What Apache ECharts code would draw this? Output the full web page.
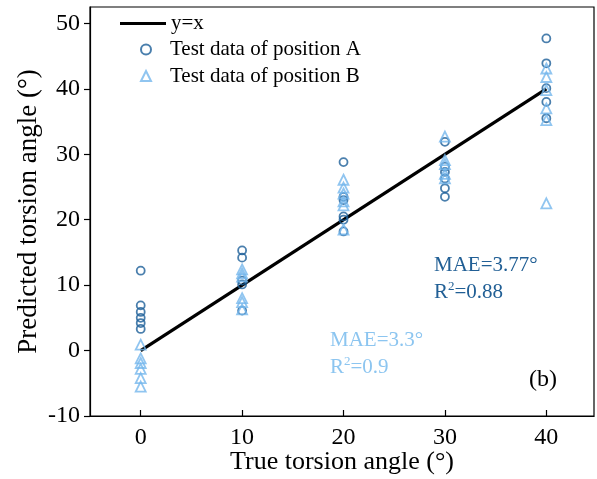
<!DOCTYPE html>
<html><head><meta charset="utf-8">
<script src="https://cdn.jsdelivr.net/npm/echarts@6/dist/echarts.min.js"></script>
<style>html,body{margin:0;padding:0;background:#fff}#c{width:597px;height:479px}</style>
</head><body><div id="c"></div>
<script>
const lineXY = [[0, 0], [40, 40]];
const trueAngles = [0, 10, 20, 30, 40];
const predA = [
  [12.2, 6.9, 5.9, 5.0, 4.2, 3.3],
  [15.3, 14.2, 10.7, 10.1, 6.1],
  [28.8, 23.5, 23.0, 20.5, 20.0, 18.2],
  [31.9, 28.1, 27.3, 26.3, 24.8, 23.5],
  [47.7, 43.9, 40.1, 38.0, 35.5]
];
const predB = [
  [0.9, -1.2, -1.9, -2.8, -4.2, -5.5],
  [12.4, 11.8, 11.3, 8.0, 7.4, 6.3],
  [26.1, 24.9, 24.0, 22.8, 22.2, 18.5],
  [32.7, 29.1, 28.5, 27.0, 26.3],
  [43.1, 41.8, 39.8, 37.0, 35.2, 22.5]
];
const xTicks = [0, 10, 20, 30, 40];
const yTicks = [-10, 0, 10, 20, 30, 40, 50];
const seriesNames = ['y=x', 'Test data of position A', 'Test data of position B'];
const colorA = '#1d5f99';
const colorB = '#74b6ec';

function toPts(groups) {
  const out = [];
  groups.forEach((g, i) => g.forEach(v => out.push([trueAngles[i], v])));
  return out;
}

const FONT = '"Liberation Serif", "Times New Roman", serif';
const chart = echarts.init(document.getElementById('c'), null, {renderer: 'canvas'});
chart.setOption({
  animation: false,
  grid: {left: 90, right: 3, top: 7, bottom: 63, outerBoundsMode: 'none', containLabel: false,
    show: true, borderColor: '#000', borderWidth: 1.2, backgroundColor: 'transparent'},
  legend: [
    {
      orient: 'vertical', left: 115, top: 8, itemWidth: 46, itemHeight: 3,
      textStyle: {fontFamily: FONT, fontSize: 21, color: '#000'},
      data: [{name: seriesNames[0], icon: 'rect', itemStyle: {color: '#000'}}]
    },
    {
      orient: 'vertical', left: 135, top: 34, itemWidth: 10, itemHeight: 10, itemGap: 5.5,
      textStyle: {fontFamily: FONT, fontSize: 21, color: '#000', padding: [0, 0, 0, 14]},
      data: [seriesNames[1], seriesNames[2]]
    }
  ],
  xAxis: {
    type: 'value', min: -5, max: 44.7, interval: 5,
    name: 'True torsion angle (°)', nameLocation: 'middle', nameGap: 33, nameMoveOverlap: false,
    nameTextStyle: {fontFamily: FONT, fontSize: 26, color: '#000'},
    axisLine: {show: true, lineStyle: {color: '#000', width: 1.2}, onZero: false},
    axisTick: {show: true, inside: true, length: 6, lineStyle: {color: '#000', width: 1.2},
      customValues: xTicks},
    splitLine: {show: false},
    axisLabel: {fontFamily: FONT, fontSize: 24, color: '#000', margin: 10,
      customValues: xTicks}
  },
  yAxis: {
    type: 'value', min: -10, max: 52.5, interval: 10,
    name: 'Predicted torsion angle (°)', nameLocation: 'middle', nameGap: 48, nameMoveOverlap: false,
    nameTextStyle: {fontFamily: FONT, fontSize: 27, color: '#000'},
    axisLine: {show: true, lineStyle: {color: '#000', width: 1.2}, onZero: false},
    axisTick: {show: true, inside: false, length: 6, lineStyle: {color: '#000', width: 1.2},
      customValues: yTicks},
    splitLine: {show: false},
    axisLabel: {fontFamily: FONT, fontSize: 24, color: '#000', margin: 10,
      customValues: yTicks}
  },
  series: [
    {name: seriesNames[0], type: 'line', data: lineXY, symbol: 'none',
      lineStyle: {color: '#000', width: 3.2}, itemStyle: {color: '#000'}, z: 3},
    {name: seriesNames[1], type: 'scatter', data: toPts(predA), symbol: 'circle', symbolSize: 8,
      itemStyle: {color: 'rgba(0,0,0,0)', borderColor: colorA, borderWidth: 1.8}, z: 4},
    {name: seriesNames[2], type: 'scatter', data: toPts(predB), symbol: 'triangle', symbolSize: 10,
      itemStyle: {color: 'rgba(0,0,0,0)', borderColor: colorB, borderWidth: 1.8}, z: 4}
  ],
  graphic: [
    {type: 'text', x: 434, y: 265.5, style: {
      verticalAlign: 'middle',
      rich: {t: {fontFamily: FONT, fontSize: 21, fill: '#215f95'}},
      text: '{t|MAE=3.77°}'}},
    {type: 'text', x: 434, y: 292, style: {
      verticalAlign: 'middle',
      rich: {t: {fontFamily: FONT, fontSize: 21, fill: '#215f95'},
             s: {fontFamily: FONT, fontSize: 13, fill: '#215f95', verticalAlign: 'top', padding: [0, 0, 10, 0]}},
      text: '{t|R}{s|2}{t|=0.88}'}},
    {type: 'text', x: 330, y: 340.5, style: {
      verticalAlign: 'middle',
      rich: {t: {fontFamily: FONT, fontSize: 21, fill: '#8cc5f0'}},
      text: '{t|MAE=3.3°}'}},
    {type: 'text', x: 330, y: 367, style: {
      verticalAlign: 'middle',
      rich: {t: {fontFamily: FONT, fontSize: 21, fill: '#8cc5f0'},
             s: {fontFamily: FONT, fontSize: 13, fill: '#8cc5f0', verticalAlign: 'top', padding: [0, 0, 10, 0]}},
      text: '{t|R}{s|2}{t|=0.9}'}},
    {type: 'text', x: 529, y: 380, style: {
      verticalAlign: 'middle',
      text: '(b)', font: '24px "Liberation Serif", serif', fill: '#000'}}
  ]
});
</script></body></html>
